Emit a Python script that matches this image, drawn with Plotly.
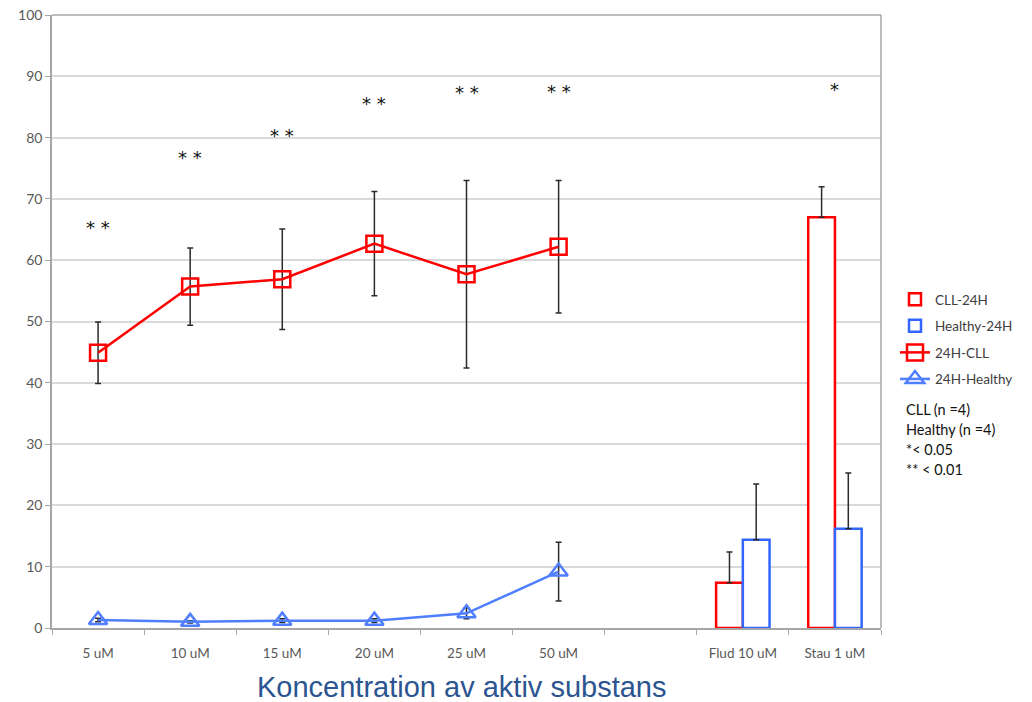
import plotly.graph_objects as go

categories = ["5 uM", "10 uM", "15 uM", "20 uM", "25 uM", "50 uM", " ", "Flud 10 uM", "Stau 1 uM"]
conc = categories[:6]
treat = categories[7:]

cll_line = [44.9, 55.7, 56.9, 62.7, 57.7, 62.2]
cll_line_err = [5.0, 6.3, 8.2, 8.5, 15.3, 10.8]
healthy_line = [1.3, 1.0, 1.2, 1.2, 2.4, 9.2]
healthy_line_err = [0.3, 0.2, 0.3, 0.3, 0.9, 4.8]

cll_bar = [7.4, 67.0]
cll_bar_err = [5.0, 5.0]
healthy_bar = [14.4, 16.2]
healthy_bar_err = [9.1, 9.1]

sig_labels = ["* *", "* *", "* *", "* *", "* *", "* *", "*"]
sig_x = ["5 uM", "10 uM", "15 uM", "20 uM", "25 uM", "50 uM", "Stau 1 uM"]
sig_y = [65.3, 76.8, 80.4, 85.5, 87.4, 87.6, 87.8]

note_lines = ["CLL (n =4)", "Healthy (n =4)", "*< 0.05", "** < 0.01"]

RED = "#FF0000"
BLUE_BAR = "#3366FF"
BLUE_LINE = "#4F7FFF"
ERR = "#2b2b2b"
AX = "#a6a6a6"

# plot area in page pixels: x 52..881, y 15..628
PW, PH = 829, 613

fig = go.Figure()
fig.add_trace(go.Bar(
    x=treat, y=cll_bar, name="CLL-24H", legendgroup="a",
    marker=dict(color="white", line=dict(color=RED, width=2.5)),
    error_y=dict(type="data", array=cll_bar_err, arrayminus=[0, 0], symmetric=False,
                 color=ERR, thickness=1.5, width=3),
))
fig.add_trace(go.Bar(
    x=treat, y=healthy_bar, name="Healthy-24H", legendgroup="b",
    marker=dict(color="white", line=dict(color=BLUE_BAR, width=2.5)),
    error_y=dict(type="data", array=healthy_bar_err, arrayminus=[0, 0], symmetric=False,
                 color=ERR, thickness=1.5, width=3),
))
fig.add_trace(go.Scatter(
    x=conc, y=cll_line, name="24H-CLL", mode="lines+markers", legendgroup="c",
    line=dict(color=RED, width=2.5),
    marker=dict(symbol="square-open", size=16, color=RED, line=dict(width=2.5)),
    error_y=dict(type="data", array=cll_line_err, color=ERR, thickness=1.5, width=3),
))
fig.add_trace(go.Scatter(
    x=conc, y=healthy_line, name="24H-Healthy", mode="lines+markers", legendgroup="d",
    line=dict(color=BLUE_LINE, width=2.5),
    marker=dict(symbol="triangle-up-open", size=16, color=BLUE_LINE, line=dict(width=2.5)),
    error_y=dict(type="data", array=healthy_line_err, color=ERR, thickness=1.5, width=3),
))

for lx, ly, lt in zip(sig_x, sig_y, sig_labels):
    fig.add_annotation(x=lx, y=ly, text=lt, showarrow=False,
                       font=dict(family="DejaVu Sans", size=18, color="#111111"))

for i, t in enumerate(note_lines):
    fig.add_annotation(xref="paper", yref="paper", x=1.0 + 23 / PW, y=(628 - 409 - 20.3 * i) / PH,
                       text=t, showarrow=False, xanchor="left", yanchor="middle",
                       font=dict(family="Lato", size=14.5, color="#111111"))

fig.add_annotation(xref="paper", yref="paper", x=(461 - 52) / PW, y=(628 - 687) / PH,
                   text="Koncentration av aktiv substans", showarrow=False,
                   xanchor="center", yanchor="middle",
                   font=dict(family="Liberation Sans", size=29, color="#2B5590"))

fig.update_layout(
    width=1032, height=702,
    margin=dict(l=52, r=151, t=15, b=74, autoexpand=False),
    paper_bgcolor="white", plot_bgcolor="white",
    barmode="group", bargap=0.42, bargroupgap=0,
    font=dict(family="Lato", size=11, color="#595959"),
    legend=dict(x=1.0 + 14 / PW, y=(628 - 284) / PH, xanchor="left", yanchor="top",
                font=dict(family="Lato", size=13.5, color="#404040"),
                bgcolor="rgba(0,0,0,0)", tracegroupgap=6, itemwidth=30,
                traceorder="grouped"),
    showlegend=True,
)
fig.update_xaxes(
    type="category", categoryorder="array", categoryarray=categories,
    range=[-0.5, 8.5], tickson="boundaries", ticks="outside", ticklen=5,
    tickcolor=AX, showline=True, linecolor=AX, linewidth=1.5, automargin=False,
    mirror=False, showgrid=False, ticklabelstandoff=12,
    tickfont=dict(family="Lato", size=13.5, color="#595959"),
)
fig.update_yaxes(
    range=[0, 100], dtick=10, ticks="outside", ticklen=5, tickcolor=AX,
    showline=True, linecolor=AX, linewidth=1.5, showgrid=True, automargin=False,
    gridcolor="#d9d9d9", gridwidth=1.5, zeroline=False,
    tickfont=dict(family="Lato", size=14, color="#595959"),
)
fig.add_shape(type="line", xref="paper", yref="paper", x0=1, x1=1, y0=0, y1=1,
              line=dict(color=AX, width=1.5))
fig.add_shape(type="line", xref="paper", yref="paper", x0=0, x1=1, y0=1, y1=1,
              line=dict(color=AX, width=1.5))

fig.write_html("out.html", config={"displayModeBar": False},
               post_script="document.body.style.margin='0';")
